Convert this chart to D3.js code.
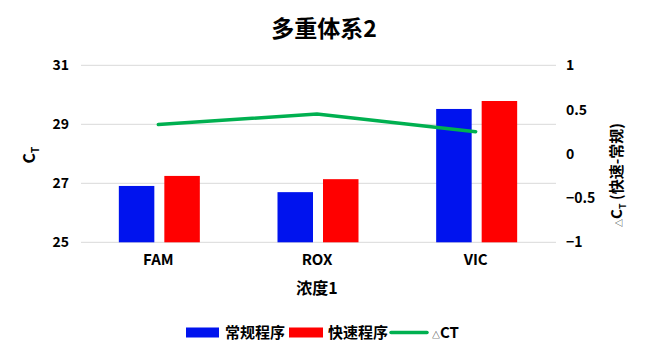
<!DOCTYPE html>
<html><head><meta charset="utf-8">
<script src="https://cdn.jsdelivr.net/npm/d3@7/dist/d3.min.js"></script>
<style>body{margin:0;background:#fff}svg{display:block}text{font-family:"Microsoft YaHei","Noto Sans CJK SC",sans-serif;font-weight:bold;fill:#000}</style>
</head><body><svg id="c" width="647" height="358"></svg>
<script>
const categories = ["FAM","ROX","VIC"];
const seriesNames = ["常规程序","快速程序"];
const normalValues = [26.91, 26.70, 29.52];
const fastValues = [27.25, 27.14, 29.79];
const deltaValues = [0.33, 0.45, 0.25];
const leftTicks = [25,27,29,31];
const rightTicks = [-1,-0.5,0,0.5,1];
const colors = ["#0013EE","#FF0000","#00B050"];

const svg = d3.select("#c");
const x = d3.scaleBand().domain(categories).range([79,555]);
const y = d3.scaleLinear().domain([25,31]).range([242.3,65.3]);
const y2 = d3.scaleLinear().domain([-1,1]).range([242.3,65.3]);
const cxOf = c => x(c) + x.bandwidth()/2;

// gridlines
svg.append("g").selectAll("line").data(leftTicks).join("line")
  .attr("x1",81).attr("x2",556).attr("y1",d=>y(d)).attr("y2",d=>y(d))
  .attr("stroke","#d9d9d9").attr("stroke-width",1);

// left axis labels
const la = svg.append("g").attr("transform","translate(81,0)")
  .call(d3.axisLeft(y).tickValues(leftTicks).tickSize(0).tickPadding(12).tickFormat(d3.format("d")));
la.select(".domain").remove();
la.selectAll("text").style("font-size","14px").attr("font-family",null);

const ra = svg.append("g").attr("transform","translate(557,0)")
  .call(d3.axisRight(y2).tickValues(rightTicks).tickSize(0).tickPadding(9).tickFormat(d=>d3.format("")(d)));
ra.select(".domain").remove();
ra.selectAll("text").style("font-size","14px").attr("font-family",null);

const xa = svg.append("g").attr("transform","translate(0,242)")
  .call(d3.axisBottom(x).tickSize(0).tickPadding(12));
xa.select(".domain").remove();
xa.selectAll("text").style("font-size","15px").attr("font-family",null);

// bars
const bw = 35.5;
const g = svg.append("g");
categories.forEach((c,i)=>{
  const cx = cxOf(c);
  [normalValues[i], fastValues[i]].forEach((v,j)=>{
    const x0 = j===0 ? cx - 39.5 : cx + 6;
    g.append("rect").attr("x",x0).attr("y",y(v)).attr("width",bw).attr("height",y(25)-y(v)).attr("fill",colors[j]);
  });
});

// line
const line = d3.line().x((d,i)=>cxOf(categories[i])).y(d=>y2(d));
svg.append("path").datum(deltaValues).attr("d",line).attr("fill","none")
  .attr("stroke",colors[2]).attr("stroke-width",3.5).attr("stroke-linecap","round");

// title
svg.append("text").attr("x",324).attr("y",37).attr("text-anchor","middle").style("font-size","23px").text("多重体系2");

// left axis title
const lt = svg.append("text").attr("transform","translate(35,155) rotate(-90)").attr("text-anchor","middle").style("font-size","16px");
lt.append("tspan").text("C");
lt.append("tspan").attr("dy",4).style("font-size","10px").text("T");

// right axis title
const rt = svg.append("text").attr("transform","translate(622,175) rotate(-90)").attr("text-anchor","middle").style("font-size","15px");
rt.append("tspan").style("font-size","8px").style("font-weight","normal").text("△");
rt.append("tspan").text("C");
rt.append("tspan").attr("dy",4).style("font-size","9px").text("T");
rt.append("tspan").attr("dy",-4).text(" (快速-常规)");

// x title
svg.append("text").attr("x",317).attr("y",294).attr("text-anchor","middle").style("font-size","16px").text("浓度1");

// legend
const lg = svg.append("g");
lg.append("rect").attr("x",186).attr("y",327.5).attr("width",33).attr("height",10).attr("fill",colors[0]);
lg.append("text").attr("x",225).attr("y",338).style("font-size","15px").text(seriesNames[0]);
lg.append("rect").attr("x",289).attr("y",327.5).attr("width",34).attr("height",10).attr("fill",colors[1]);
lg.append("text").attr("x",328).attr("y",338).style("font-size","15px").text(seriesNames[1]);
lg.append("line").attr("x1",391).attr("x2",427).attr("y1",332.5).attr("y2",332.5).attr("stroke",colors[2]).attr("stroke-width",3.5).attr("stroke-linecap","round");
const lt3 = lg.append("text").attr("x",432).attr("y",338).style("font-size","15px");
lt3.append("tspan").style("font-size","8px").style("font-weight","normal").text("△");
lt3.append("tspan").text("CT");
</script></body></html>
